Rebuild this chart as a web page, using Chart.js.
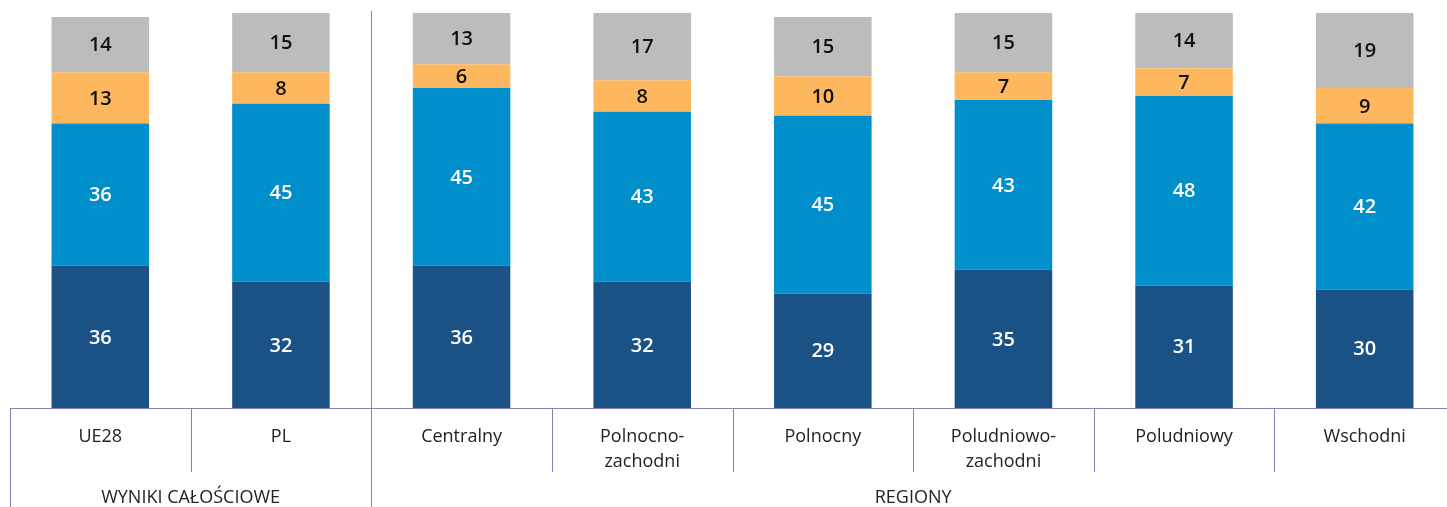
<!DOCTYPE html>
<html>
<head>
<meta charset="utf-8">
<script src="https://cdn.jsdelivr.net/npm/chart.js@4.4.1/dist/chart.umd.min.js"></script>
<style>
  html, body { margin: 0; padding: 0; background: #fff; overflow: hidden; }
  #wrap { position: relative; width: 1456px; height: 507px; }
</style>
</head>
<body>
<div id="wrap"><canvas id="chart"></canvas></div>
<script>
// categories and groups
const categories = ['UE28', 'PL', 'Centralny', ['Polnocno-', 'zachodni'], 'Polnocny', ['Poludniowo-', 'zachodni'], 'Poludniowy', 'Wschodni'];
const groups = [
    { label: 'WYNIKI CAŁOŚCIOWE', from: 0, to: 1 },
    { label: 'REGIONY', from: 2, to: 7 }
];

// stacked values, bottom to top
const darkValues = [36, 32, 36, 32, 29, 35, 31, 30];
const blueValues = [36, 45, 45, 43, 45, 43, 48, 42];
const orangeValues = [13, 8, 6, 8, 10, 7, 7, 9];
const greyValues = [14, 15, 13, 17, 15, 15, 14, 19];

const lineColor = '#8583b3';
const fontFamily = '"Open Sans", "Noto Sans", sans-serif';

// value labels inside each segment + separator lines + group labels
const decorPlugin = {
    id: 'decor',
    afterDatasetsDraw(chart) {
        const ctx = chart.ctx;
        const area = chart.chartArea;
        const xs = chart.scales.x;
        const n = categories.length;

        ctx.save();
        ctx.font = '600 20px ' + fontFamily;
        ctx.textAlign = 'center';
        ctx.textBaseline = 'middle';
        chart.data.datasets.forEach((ds, di) => {
            const meta = chart.getDatasetMeta(di);
            meta.data.forEach((bar, i) => {
                ctx.fillStyle = ds.labelColor;
                ctx.fillText(ds.data[i], bar.x, (bar.y + bar.base) / 2 + 1);
            });
        });

        // boundaries between categories
        const step = xs.getPixelForValue(1) - xs.getPixelForValue(0);
        const edge = i => xs.getPixelForValue(0) - step / 2 + i * step;

        ctx.strokeStyle = lineColor;
        ctx.lineWidth = 1;
        // axis line
        ctx.beginPath();
        ctx.moveTo(edge(0), area.bottom + 0.5);
        ctx.lineTo(edge(n), area.bottom + 0.5);
        ctx.stroke();

        for (let i = 0; i <= n; i++) {
            const x = Math.round(edge(i)) + 0.5;
            let y0 = area.bottom, y1 = area.bottom + 64;
            if (i === 0) { y1 = chart.height; }
            if (i === groups[1].from) { y0 = area.top - 2; y1 = chart.height; }
            ctx.beginPath();
            ctx.moveTo(x, y0);
            ctx.lineTo(x, y1);
            ctx.stroke();
        }

        // group labels
        ctx.font = '18px ' + fontFamily;
        ctx.fillStyle = '#222';
        groups.forEach(g => {
            const cx = (edge(g.from) + edge(g.to + 1)) / 2;
            ctx.fillText(g.label, cx, area.bottom + 90);
        });
        ctx.restore();
    }
};

const ctx = document.getElementById('chart').getContext('2d');
new Chart(ctx, {
    type: 'bar',
    data: {
        labels: categories,
        datasets: [
            { label: 'a', data: darkValues, backgroundColor: '#1a5286', labelColor: '#ffffff' },
            { label: 'b', data: blueValues, backgroundColor: '#008fca', labelColor: '#ffffff' },
            { label: 'c', data: orangeValues, backgroundColor: '#fdb75e', labelColor: '#111111' },
            { label: 'd', data: greyValues, backgroundColor: '#bcbcbc', labelColor: '#111111' }
        ]
    },
    options: {
        responsive: true,
        maintainAspectRatio: false,
        animation: false,
        layout: { padding: { left: 10, right: 1, top: 13, bottom: 0 } },
        datasets: { bar: { categoryPercentage: 1, barPercentage: 0.54, borderWidth: 0 } },
        plugins: { legend: { display: false }, tooltip: { enabled: false } },
        scales: {
            x: {
                stacked: true,
                offset: true,
                grid: { display: false },
                border: { display: false },
                ticks: {
                    autoSkip: false,
                    maxRotation: 0,
                    padding: 8,
                    color: '#222',
                    font: { family: fontFamily, size: 18, lineHeight: 1.4 }
                },
                afterFit(scale) { scale.height = 99; }
            },
            y: {
                stacked: true,
                display: false,
                min: 0,
                max: 100
            }
        }
    },
    plugins: [decorPlugin]
});
</script>
</body>
</html>
